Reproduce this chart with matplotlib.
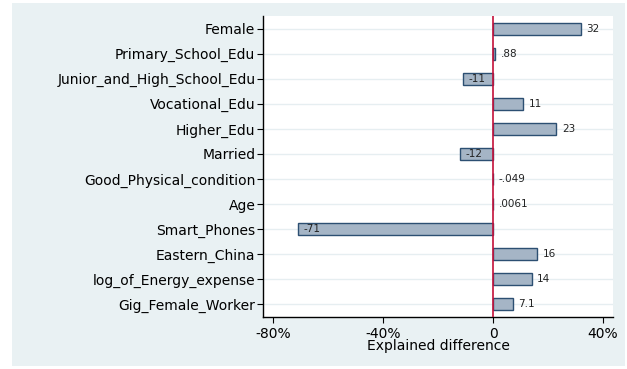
import matplotlib.pyplot as plt
from matplotlib.patches import Rectangle

categories = [
    'Female', 'Primary_School_Edu', 'Junior_and_High_School_Edu',
    'Vocational_Edu', 'Higher_Edu', 'Married', 'Good_Physical_condition',
    'Age', 'Smart_Phones', 'Eastern_China', 'log_of_Energy_expense',
    'Gig_Female_Worker',
]
values = [32, 0.88, -11, 11, 23, -12, -0.049, 0.0061, -71, 16, 14, 7.1]
value_labels = ['32', '.88', '-11', '11', '23', '-12', '-.049', '.0061',
                '-71', '16', '14', '7.1']
x_ticks = [-80, -40, 0, 40]
x_tick_labels = ['-80%', '-40%', '0', '40%']

plt.rcParams['font.family'] = ['DejaVu Sans']

W, H = 627, 369
fig = plt.figure(figsize=(W / 100, H / 100), dpi=100)
fig.patch.set_facecolor('white')
fig.patches.append(Rectangle((12 / W, 1 - 366 / H), 613 / W, 363 / H,
                             transform=fig.transFigure, facecolor='#e9f1f3',
                             edgecolor='none', zorder=-10))

ax = fig.add_axes([263 / W, 1 - 317 / H, 350 / W, 301 / H])
ax.set_facecolor('white')

ypos = list(range(len(categories)))
for y in ypos:
    ax.axhline(y, color='#e6eef1', lw=1, zorder=0)
ax.barh(ypos, values, height=0.48, color='#a5b5c6', edgecolor='#2c4f72',
        linewidth=1, zorder=2)
ax.axvline(0, color='#c4103a', lw=1.2, zorder=3)

for y, v, lab in zip(ypos, values, value_labels):
    ax.text(v + 2, y, lab, va='center', ha='left', fontsize=7.5, zorder=4,
            color='#222222')

ax.set_ylim(len(categories) - 0.5, -0.5)
ax.set_xlim(-83.6, 43.6)
ax.set_yticks(ypos)
ax.set_yticklabels(categories, fontsize=10)
ax.set_xticks(x_ticks)
ax.set_xticklabels(x_tick_labels, fontsize=10)
ax.tick_params(axis='y', length=4.5, width=0.8, pad=1)
ax.tick_params(axis='x', length=4, width=0.8, pad=3)
ax.set_xlabel('Explained difference', fontsize=10, labelpad=-1)

for s in ['top', 'right']:
    ax.spines[s].set_visible(False)
for s in ['left', 'bottom']:
    ax.spines[s].set_linewidth(1)

fig.savefig('out.png', dpi=100)
